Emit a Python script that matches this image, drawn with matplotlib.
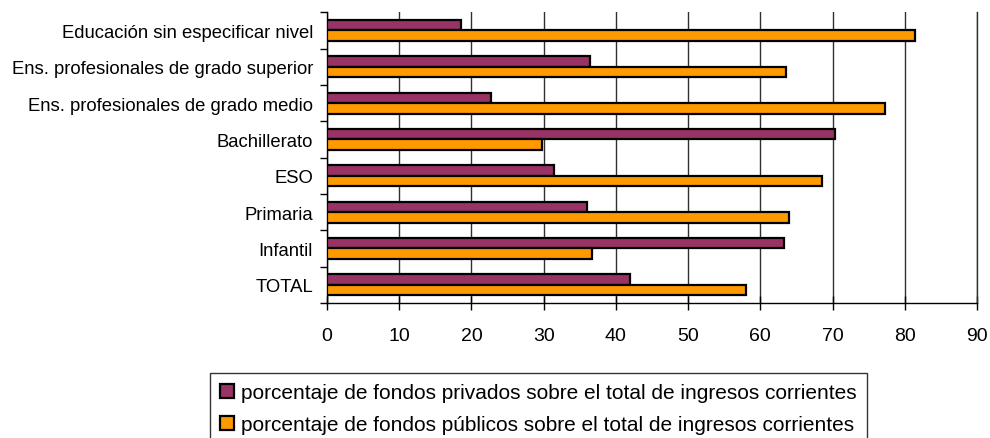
import numpy as np
import matplotlib
matplotlib.use("Agg")
import matplotlib.pyplot as plt

plt.rcParams["font.family"] = ["Liberation Sans", "DejaVu Sans"]

# categories from top to bottom
categories = [
    "Educación sin especificar nivel",
    "Ens. profesionales de grado superior",
    "Ens. profesionales de grado medio",
    "Bachillerato",
    "ESO",
    "Primaria",
    "Infantil",
    "TOTAL",
]
privados = [18.6, 36.4, 22.7, 70.4, 31.4, 36.0, 63.3, 42.0]
publicos = [81.4, 63.6, 77.3, 29.7, 68.6, 64.0, 36.7, 58.0]
label_priv = "porcentaje de fondos privados sobre el total de ingresos corrientes"
label_pub = "porcentaje de fondos públicos sobre el total de ingresos corrientes"
xticks = [0, 10, 20, 30, 40, 50, 60, 70, 80, 90]

fig = plt.figure(figsize=(9.9, 4.39), dpi=100)
ax = fig.add_axes([327 / 990, 1 - 304 / 439, 650 / 990, (304 - 13.3) / 439])

y = np.arange(len(categories))
h = 0.286
ax.barh(y - h / 2, privados, height=h, color="#993366", edgecolor="black",
        linewidth=1.6, label=label_priv, zorder=3)
ax.barh(y + h / 2, publicos, height=h, color="#FF9900", edgecolor="black",
        linewidth=1.6, label=label_pub, zorder=3)

ax.set_ylim(len(categories) - 0.5, -0.5)
ax.set_xlim(0, 90)

# category boundary ticks, labels in the middle
ax.set_yticks(np.arange(-0.5, len(categories) + 0.5, 1))
ax.set_yticklabels([])
ax.set_yticks(y, minor=True)
ax.set_yticklabels(categories, minor=True, fontsize=13.3)
ax.tick_params(axis="y", which="major", direction="out", length=5, width=1)
ax.tick_params(axis="y", which="minor", length=0, pad=10)

ax.set_xticks(xticks)
ax.set_xticklabels([str(t) for t in xticks], fontsize=14)
ax.tick_params(axis="x", direction="inout", length=9.5, width=1, pad=12.5)

ax.grid(axis="x", color="#303030", linewidth=1, zorder=0)
ax.spines["top"].set_visible(False)
ax.spines["right"].set_color("#303030")
ax.spines["right"].set_linewidth(1)
ax.spines["left"].set_linewidth(1)
ax.spines["bottom"].set_linewidth(1)

leg = fig.legend(loc="upper left", bbox_to_anchor=(210 / 990, 1 - 374 / 439),
                 fontsize=15, frameon=True, fancybox=False, edgecolor="black",
                 handlelength=0.67, handleheight=0.67, handletextpad=0.3,
                 borderpad=0.5, labelspacing=0.62, borderaxespad=0)
leg.get_frame().set_linewidth(1)

fig.savefig("out.png", dpi=100)
